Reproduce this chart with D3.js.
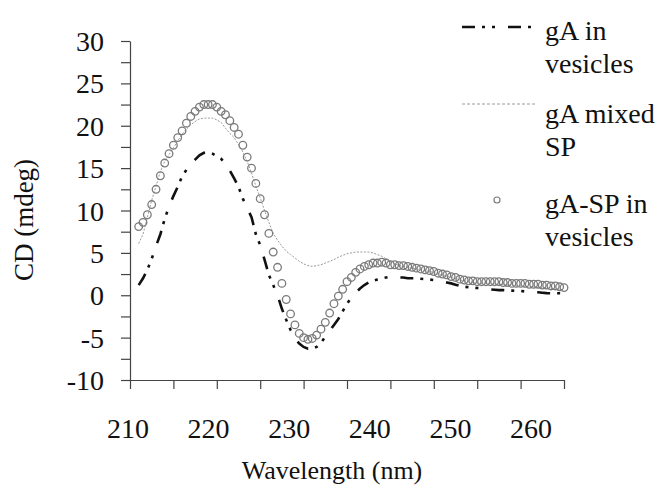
<html><body style="margin:0">
<svg width="662" height="500" font-family="Liberation Serif"></svg>
<script src="https://cdn.jsdelivr.net/npm/d3@7/dist/d3.min.js"></script>
<script>
// wavelength grid (nm), 0.5 nm steps from 211 to 260
var wavelengths = d3.range(211, 260.25, 0.5);

// gA in vesicles (dash-dot)
var gaVesicles = [
  1.2, 2.0, 3.0, 4.3, 5.8, 7.2, 9.0, 10.5, 11.7, 12.8,
  14.0, 14.8, 15.4, 16.0, 16.5, 16.8, 16.85, 16.7, 16.4, 16.1,
  15.5, 14.7, 13.8, 12.8, 11.4, 10.3, 9.2, 7.2, 5.9, 4.2,
  2.4, 1.2, 0.0, -1.6, -2.9, -4.1, -5.1, -5.7, -6.1, -6.3,
  -6.3, -6.1, -5.6, -4.9, -4.2, -3.5, -2.8, -1.9, -1.0, -0.3,
  0.3, 0.8, 1.2, 1.5, 1.7, 1.85, 2.0, 2.1, 2.2, 2.2,
  2.1, 2.1, 2.0, 2.0, 2.0, 1.95, 1.9, 1.85, 1.8, 1.7,
  1.6, 1.5, 1.4, 1.25, 1.1, 1.0, 0.95, 0.9, 0.85, 0.8,
  0.75, 0.7, 0.65, 0.6, 0.6, 0.55, 0.55, 0.5, 0.5, 0.45,
  0.42, 0.4, 0.35, 0.3, 0.25, 0.23, 0.23, 0.23, 0.23
];

// gA mixed SP (thin grey dotted)
var gaMixedSP = [
  6.1, 7.2, 9.2, 11.2, 12.9, 14.6, 15.8, 16.6, 17.4, 18.2,
  19.0, 19.6, 20.1, 20.5, 20.8, 20.9, 20.9, 20.9, 20.7, 20.4,
  19.7, 19.1, 18.6, 17.8, 16.9, 15.8, 14.4, 12.9, 11.5, 10.0,
  8.6, 7.3, 6.5, 5.8, 5.2, 4.8, 4.4, 4.0, 3.7, 3.5,
  3.4, 3.5, 3.6, 3.8, 4.0, 4.2, 4.5, 4.7, 4.9, 5.0,
  5.1, 5.1, 5.1, 5.1, 5.0, 4.8, 4.6, 4.3, 4.0, 3.7,
  3.5, 3.4, 3.3, 3.2, 3.1, 3.0, 2.9, 2.8, 2.7, 2.5,
  2.4, 2.3, 2.1, 2.0, 1.8, 1.7, 1.6, 1.5, 1.4, 1.4,
  1.4, 1.4, 1.3, 1.3, 1.3, 1.2, 1.2, 1.1, 1.1, 1.0,
  1.0, 1.0, 0.9, 0.9, 0.8, 0.8, 0.7, 0.7, 0.6
];

// gA-SP in vesicles (open circles)
var gaSPVesicles = [
  8.1, 8.6, 9.5, 10.7, 12.5, 14.1, 15.6, 16.7, 17.7, 18.6,
  19.4, 20.3, 21.1, 21.7, 22.2, 22.5, 22.5, 22.5, 22.2, 21.7,
  21.3, 20.6, 19.8, 19.0, 17.7, 16.3, 15.0, 13.2, 11.4, 9.5,
  7.3, 5.1, 3.3, 1.4, -0.5, -2.2, -3.5, -4.5, -5.0, -5.2,
  -5.1, -4.7, -4.0, -3.2, -2.1, -1.0, -0.1, 0.7, 1.6, 2.1,
  2.7, 3.1, 3.4, 3.6, 3.8, 3.8, 3.9, 3.8, 3.6, 3.6,
  3.5, 3.5, 3.4, 3.3, 3.2, 3.1, 3.0, 2.9, 2.8, 2.6,
  2.5, 2.4, 2.2, 2.1, 1.9, 1.8, 1.7, 1.7, 1.6, 1.6,
  1.6, 1.6, 1.6, 1.6, 1.5, 1.5, 1.4, 1.4, 1.4, 1.4,
  1.3, 1.3, 1.3, 1.2, 1.2, 1.1, 1.1, 1.0, 0.9
];

var xTickLabels = [210, 220, 230, 240, 250, 260];
var yTickLabels = [30, 25, 20, 15, 10, 5, 0, -5, -10];
var legendLabels = [["gA in", "vesicles"], ["gA mixed", "SP"], ["gA-SP in", "vesicles"]];

var svg = d3.select("svg");

var x = d3.scaleLinear().domain([210, 260]).range([130, 564]);
var y = d3.scaleLinear().domain([-10, 30]).range([380, 41]);
// printed tick labels sit a little off the tick marks in the original
var xLabel = d3.scaleLinear().domain([210, 260]).range([128, 531]);

function label(sel, size) {
  return sel.attr("font-family", "Liberation Serif")
    .style("font-family", "Times New Roman")
    .attr("font-size", size).attr("fill", "#111");
}

// axes (ticks only, labels drawn as plain text)
svg.append("g")
  .attr("transform", "translate(130,0)")
  .call(d3.axisLeft(y).tickValues(d3.range(-10, 30.1, 2.5)).tickSize(9).tickSizeOuter(0).tickFormat(""));

svg.append("g")
  .attr("transform", "translate(0,380)")
  .call(d3.axisBottom(x).tickValues(d3.range(210, 260.1, 5)).tickSize(9).tickSizeOuter(0).tickFormat(""));

svg.selectAll(".domain").attr("stroke", "#444").attr("stroke-width", 1.2);
svg.selectAll(".tick line").attr("stroke", "#444").attr("stroke-width", 1.2);

var labels = svg.append("g").attr("font-family", "Liberation Serif");

yTickLabels.forEach(function(v) {
  label(labels.append("text"), 28)
    .attr("x", 104)
    .attr("y", y(v) + 10)
    .attr("text-anchor", "end")
    .text(v);
});

xTickLabels.forEach(function(v) {
  label(labels.append("text"), 28)
    .attr("x", xLabel(v))
    .attr("y", 438)
    .attr("text-anchor", "middle")
    .text(v);
});

// axis titles
label(labels.append("text"), 27)
  .attr("transform", "translate(33,220) rotate(-90)")
  .attr("text-anchor", "middle")
  .text("CD (mdeg)");

label(labels.append("text"), 26)
  .attr("x", 332)
  .attr("y", 479)
  .attr("text-anchor", "middle")
  .text("Wavelength (nm)");

// series
function pts(vals) {
  return wavelengths.map(function(w, i) { return [w, vals[i]]; });
}
var line = d3.line()
  .x(function(d) { return x(d[0]); })
  .y(function(d) { return y(d[1]); });

svg.append("path")
  .datum(pts(gaMixedSP))
  .attr("fill", "none")
  .attr("stroke", "#9a9a9a")
  .attr("stroke-width", 1)
  .attr("stroke-dasharray", "2,1.5")
  .attr("d", line);

svg.append("path")
  .datum(pts(gaVesicles))
  .attr("fill", "none")
  .attr("stroke", "#111")
  .attr("stroke-width", 2.6)
  .attr("stroke-dasharray", "13,7,3,7,3,13")
  .attr("d", line);

svg.append("g").selectAll("circle")
  .data(pts(gaSPVesicles))
  .enter().append("circle")
  .attr("cx", function(d) { return x(d[0]); })
  .attr("cy", function(d) { return y(d[1]); })
  .attr("r", 3.8)
  .attr("fill", "none")
  .attr("stroke", "#7a7a7a")
  .attr("stroke-width", 1.3);

// legend
var legendBase = [40, 123, 213];
svg.append("line")
  .attr("x1", 462).attr("x2", 535).attr("y1", 27).attr("y2", 27)
  .attr("stroke", "#111").attr("stroke-width", 2.6)
  .attr("stroke-dasharray", "13,7,3,7,3,13");
svg.append("line")
  .attr("x1", 462).attr("x2", 535).attr("y1", 104).attr("y2", 104)
  .attr("stroke", "#9a9a9a").attr("stroke-width", 1)
  .attr("stroke-dasharray", "3,2");
svg.append("circle")
  .attr("cx", 497).attr("cy", 200).attr("r", 3)
  .attr("fill", "none").attr("stroke", "#7a7a7a").attr("stroke-width", 1.2);

legendLabels.forEach(function(lines, i) {
  lines.forEach(function(t, j) {
    label(labels.append("text"), 28)
      .attr("x", 545)
      .attr("y", legendBase[i] + j * 33)
      .text(t);
  });
});
</script>
</body></html>
